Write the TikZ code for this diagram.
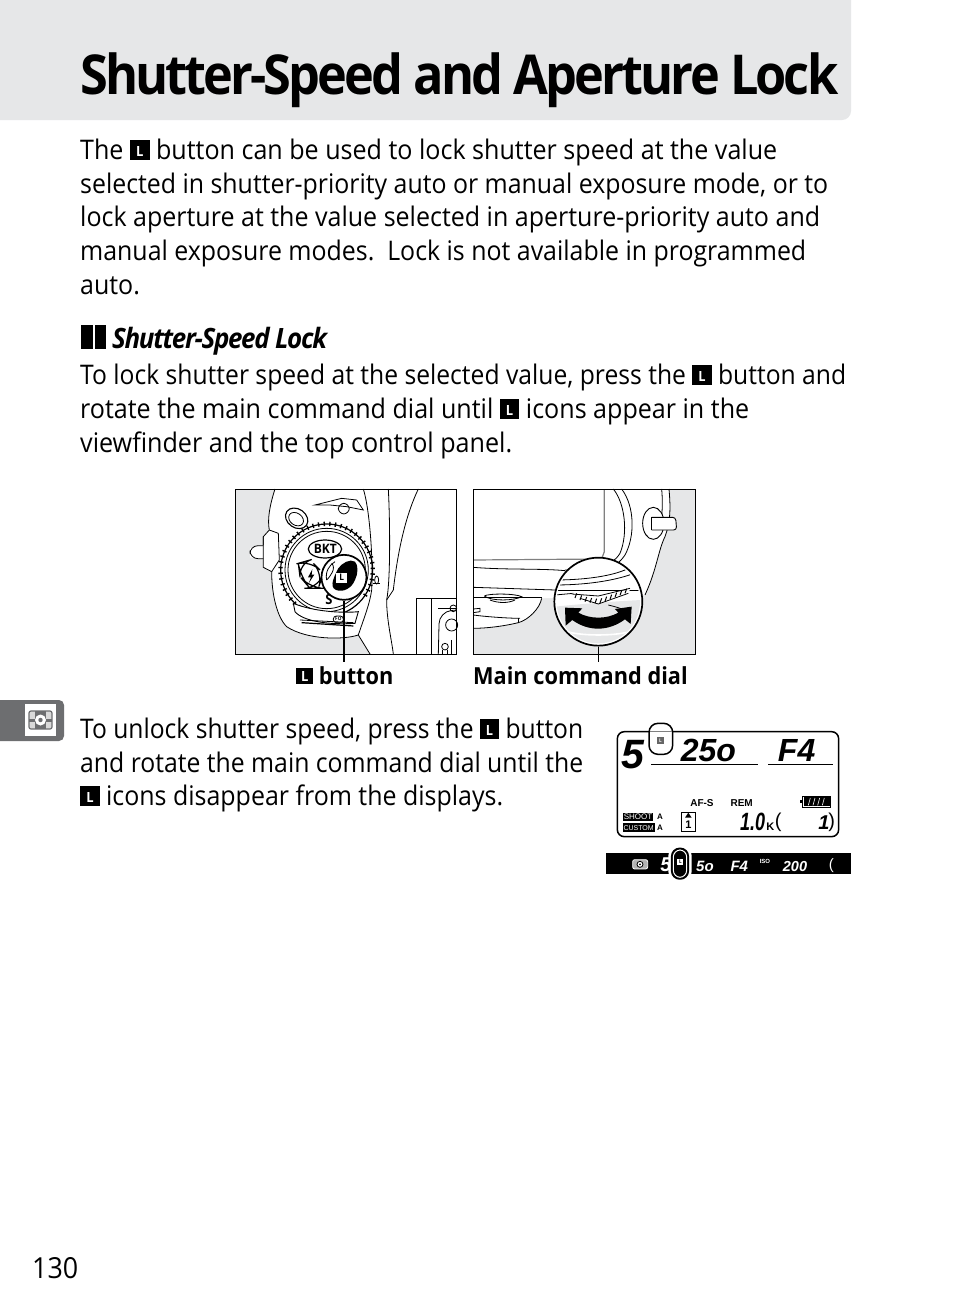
\documentclass[tikz,border=0pt]{standalone}
\usepackage{fontspec}
\setmainfont{Open Sans}[FakeStretch=0.925]
\newfontfamily\lcdfont{Liberation Sans}
\usetikzlibrary{positioning,calc}
\definecolor{barGray}{HTML}{E6E7E8}
\definecolor{tabGray}{HTML}{6D6E70}
\newcommand{\lbtn}{\mbox{\rule[-0.02em]{0.72em}{0.72em}\hspace{-0.72em}\makebox[0.72em]{\raisebox{2.6pt}{\color{white}\bfseries\fontsize{14}{14}\selectfont L}}}}
\newcommand{\fitw}[2]{\resizebox{#1pt}{\height}{#2}}

\begin{document}
\begin{tikzpicture}[x=1pt,y=-1pt]
    % Stili
    \tikzset{
        bodytext/.style={anchor=base west, inner sep=0pt, font=\fontsize{27}{33}\selectfont},
        labeltext/.style={anchor=base west, inner sep=0pt, font=\fontsize{23.5}{28}\selectfont\bfseries},
        photo/.style={draw=black, line width=0.9pt},
        lineart/.style={line width=0.8pt},
        lens/.style={circle, draw=black, fill=white, line width=1.7pt, inner sep=0pt},
        leader/.style={line width=1.3pt},
        lcdthin/.style={anchor=center, inner sep=0pt, font=\lcdfont\bfseries\fontsize{10}{10}\selectfont},
        lcdbig/.style={anchor=center, inner sep=0pt, font=\lcdfont\bfseries\itshape\fontsize{32}{32}\selectfont},
        lcdmid/.style={anchor=center, inner sep=0pt, font=\lcdfont\bfseries\itshape\fontsize{15}{15}\selectfont, white}
    }
    \useasboundingbox (0,0) rectangle (954,1314);
    \fill[white] (0,0) rectangle (954,1314);

    % Title band
    \fill[barGray, rounded corners=9pt] (-20,-20) rectangle (851,120);
    \node[anchor=base west, inner sep=0pt, font=\fontsize{55}{60}\selectfont\bfseries\addfontfeature{LetterSpace=-5.3}] (title) at (80,94) {\fitw{758}{Shutter-Speed and Aperture Lock}};

    % First paragraph
    \node[bodytext] (introA) at (80,159) {\fitw{697}{The \lbtn{} button can be used to lock shutter speed at the value}};
    \node[bodytext] (introB) at (80,193) {\fitw{748}{selected in shutter-priority auto or manual exposure mode, or to}};
    \node[bodytext] (introC) at (80,226) {\fitw{740}{lock aperture at the value selected in aperture-priority auto and}};
    \node[bodytext] (introD) at (80,260) {\fitw{726}{manual exposure modes.\ \ Lock is not available in programmed}};
    \node[bodytext] (introE) at (80,294) {auto.};

    % Heading
    \fill[black] (81,325) rectangle (93,349);
    \fill[black] (95,325) rectangle (106,349);
    \node[anchor=base west, inner sep=0pt, font=\fontsize{28}{33}\selectfont\bfseries\itshape\addfontfeature{LetterSpace=-4.7}] (heading) at (112,348) {Shutter-Speed Lock};

    % Second paragraph
    \node[bodytext] (lockA) at (80,384) {\fitw{766}{To lock shutter speed at the selected value, press the \lbtn{} button and}};
    \node[bodytext] (lockB) at (80,418) {\fitw{669}{rotate the main command dial until \lbtn{} icons appear in the}};
    \node[bodytext] (lockC) at (80,452) {\fitw{432}{viewfinder and the top control panel.}};

    % Left photo, coordinates of the 3x crop
    \begin{scope}[shift={(230,480)}, x=0.3333pt, y=-0.3333pt]
        \fill[barGray] (17,27) rectangle (680,522);
        \fill[white] (135,27) .. controls (118,80) and (112,120) .. (118,150)
            -- (100,170) -- (100,195) -- (60,205) -- (60,232) -- (100,238) -- (100,262) -- (125,275)
            .. controls (125,340) and (140,410) .. (170,440)
            .. controls (230,480) and (340,480) .. (385,465)
            -- (420,522) -- (680,522) -- (680,27) -- cycle;
        \begin{scope}[lineart]
            \draw (135,27) .. controls (118,80) and (112,120) .. (118,150) -- (100,170) -- (100,195);
            \draw[rounded corners=8pt] (100,197) -- (60,197) -- (60,236) -- (100,236);
            \draw (100,170) -- (100,262) -- (125,275) .. controls (125,340) and (140,410) .. (170,440)
                .. controls (230,480) and (340,480) .. (385,465) -- (420,522);
            \draw (118,150) -- (145,160) -- (148,240) -- (125,275);
            \draw (475,27) .. controls (480,120) and (482,300) .. (470,360) .. controls (470,420) and (485,480) .. (490,522);
            \draw (565,27) .. controls (530,100) and (505,200) .. (490,330) -- (470,360);
            \draw (400,27) .. controls (420,90) and (430,250) .. (425,330) .. controls (420,370) and (400,420) .. (385,465);
            \draw (255,75) -- (335,55) -- (380,60) -- (400,90) -- (350,80) -- (300,75) -- cycle;
            \draw[rounded corners=6pt] (325,70) rectangle (358,102);
            \draw[line width=1.1pt, rotate around={-35:(200,115)}] (200,115) ellipse (36 and 28);
            \draw[rotate around={-35:(200,115)}] (200,118) ellipse (24 and 18);
            % Main dial
            \draw (290,270) circle (125);
            \draw (290,270) circle (116);
            \draw[line width=1.2pt] (290,270) circle (138);
            \foreach \tooth in {120,127,...,395} {
                \draw[line width=1.4pt] ($(290,270)+(\tooth:132)$) -- ($(290,270)+(\tooth:145)$);
            }
            \draw[line width=1.2pt, fill=white] (285,207) ellipse (50 and 27);
            \draw[line width=1.2pt, rounded corners=14pt, fill=white] (205,250) -- (240,240) -- (280,280) -- (265,325) -- (240,325) -- (210,290) -- cycle;
            \fill[black] (247,268) -- (234,292) -- (243,292) -- (236,310) -- (253,284) -- (245,284) -- cycle;
            \draw[line width=0.9pt, fill=white] (190,370) .. controls (250,395) and (340,400) .. (385,395) -- (375,430) .. controls (300,435) and (220,425) .. (195,395) -- cycle;
            \draw (210,420) -- (370,428);
            \draw[line width=1.2pt] (215,428) -- (370,438);
            \draw[rounded corners=3pt] (310,408) rectangle (340,428);
            \draw (560,355) rectangle (680,522);
            \draw (605,355) -- (605,522);
            \draw (625,385) -- (680,385);
            \draw[rounded corners=12pt] (680,390) -- (628,395) -- (625,522);
            \draw (670,385) circle (10);
            \draw (665,435) circle (18);
            \draw (645,500) circle (10);
            \draw (636,510) -- (636,522) (652,510) -- (652,522) (664,480) -- (664,522);
            \draw (440,300) ellipse (6 and 12);
            \draw (430,310) -- (450,310);
        \end{scope}
        \node[inner sep=0pt, font=\bfseries\fontsize{13}{13}\selectfont] (bktText) at (286,207) {BKT};
        \node[inner sep=1pt, fill=white, font=\bfseries\fontsize{14}{14}\selectfont] (dialS) at (297,360) {S};
        \node[inner sep=0pt, font=\bfseries\fontsize{5}{5}\selectfont] (dialMode) at (325,415) {FO};
        % Loupe on the button
        \node[lens, minimum size=45pt] (lensL) at (342,292) {};
        \fill[black] (375,245) .. controls (385,255) and (385,280) .. (375,300)
            .. controls (365,325) and (340,338) .. (318,330)
            .. controls (295,320) and (315,285) .. (325,265)
            .. controls (335,250) and (360,235) .. (375,245) -- cycle;
        \draw[lineart] (290,300) .. controls (285,275) and (298,255) .. (315,245);
        \draw[lineart] (305,250) .. controls (320,265) and (300,290) .. (290,300);
        \fill[white] (318,278) rectangle (352,308);
        \node[inner sep=0pt, font=\bfseries\fontsize{9}{9}\selectfont] (lensLetter) at (335,293) {L};
        \draw[photo] (17,27) rectangle (680,522);
        \coordinate (lensLend) at (342,545);
    \end{scope}
    \node[labeltext] (btnLabel) at (296,684) {\lbtn{} button};
    \draw[leader] (lensL.south) -- (lensLend);

    % Right photo, coordinates of the 3x crop
    \begin{scope}[shift={(465,480)}, x=0.3333pt, y=-0.3333pt]
        \fill[barGray] (25,27) rectangle (690,522);
        \fill[white] (25,27) -- (612,27) .. controls (618,90) and (615,130) .. (600,170)
            .. controls (580,210) and (575,270) .. (540,345)
            -- (230,355) .. controls (225,385) and (190,420) .. (160,428)
            .. controls (110,440) and (60,445) .. (25,445) -- cycle;
        \begin{scope}[lineart]
            \draw[gray, line width=1.2pt] (418,27) -- (418,215) -- (410,237) -- (25,240);
            \draw (612,27) .. controls (618,90) and (615,130) .. (600,170)
                .. controls (580,210) and (575,270) .. (540,345);
            \draw (590,27) .. controls (595,80) and (590,130) .. (580,160);
            \draw (445,27) .. controls (480,70) and (490,160) .. (465,220) .. controls (440,260) and (400,268) .. (300,270);
            \draw (470,27) .. controls (510,80) and (510,170) .. (480,225) .. controls (450,270) and (400,285) .. (300,285);
            \draw (25,262) .. controls (120,270) and (230,265) .. (300,272);
            \draw (25,322) -- (270,330);
            \draw (25,352) -- (230,352);
            \draw (230,355) .. controls (225,385) and (190,420) .. (160,428) .. controls (110,440) and (60,445) .. (25,445);
            \draw (25,405) .. controls (60,410) and (130,415) .. (165,415);
            \draw (160,415) -- (160,430);
            \draw (58,348) .. controls (70,340) and (150,340) .. (170,350) .. controls (150,362) and (80,365) .. (58,348);
            \draw (75,360) .. controls (100,370) and (130,370) .. (150,360);
            \draw (25,387) -- (45,385) -- (45,395) -- (25,398);
            % Eyelet
            \draw[fill=white, line width=0.9pt] (565,130) ellipse (32 and 48);
            \draw[fill=white, line width=0.9pt, rounded corners=3pt] (560,112) -- (632,112) -- (635,150) -- (560,150);
            \draw (560,112) -- (560,150);
        \end{scope}
        \node[lens, minimum size=88pt] (lensR) at (400,365) {};
        \begin{scope}
            \clip (400,365) circle (125);
            \fill[barGray] (270,380) .. controls (350,372) and (430,365) .. (530,360) -- (530,500) -- (270,500) -- cycle;
            \draw[lineart] (270,332) -- (530,332);
            \draw[lineart] (270,300) .. controls (350,300) and (450,290) .. (500,260);
            \draw[lineart] (270,315) .. controls (350,315) and (450,305) .. (520,275);
            \draw[lineart] (270,345) -- (325,340);
            \draw[lineart] (430,375) .. controls (450,380) and (470,385) .. (490,395);
            \draw[white, line width=1.6pt] (290,450) .. controls (340,470) and (460,470) .. (510,450);
            \draw[white, line width=1.6pt] (335,405) .. controls (370,420) and (430,420) .. (465,405);
        \end{scope}
        % Dial teeth
        \fill[white] (320,340) -- (400,345) -- (495,328) -- (490,340) -- (400,372) -- (345,355) -- cycle;
        \foreach \dx/\dy in {335/347, 350/353, 365/358, 380/361, 395/363, 410/362, 425/357, 440/351, 455/345, 470/339, 485/333} {
            \draw[line width=1pt] (\dx,\dy-7) -- (\dx-5,\dy+7);
        }
        \draw[line width=0.8pt] (320,342) -- (400,348) -- (495,325);
        \draw[line width=0.8pt] (345,355) -- (400,372) -- (490,340);
        % Double arrow
        \fill[black] (300,383) -- (352,385) -- (340,398)
            .. controls (375,418) and (425,418) .. (460,398)
            -- (450,387) -- (500,380) -- (497,432) -- (480,418)
            .. controls (430,455) and (370,455) .. (322,420)
            -- (302,437) -- cycle;
        \draw[photo] (25,27) rectangle (690,522);
        \coordinate (lensRend) at (400,545);
    \end{scope}
    \node[labeltext] (dialLabel) at (473,684) {Main command dial};
    \draw[leader] (lensR.south) -- (lensRend);

    % Tab
    \fill[tabGray, rounded corners=5pt] (-20,700) rectangle (64,741);
    \fill[white] (25,704) rectangle (56,736);
    \draw[tabGray, line width=1.2pt, fill=gray!30, rounded corners=2pt] (29,711) rectangle (52,729);
    \fill[tabGray] (35,711) rectangle (46,729);
    \fill[tabGray] (29,718.5) rectangle (52,721.5);
    \fill[white] (40.5,720) circle (5.5);
    \fill[tabGray] (40.5,720) circle (2.2);

    % Third paragraph
    \node[bodytext] (unlockA) at (80,738) {\fitw{503}{To unlock shutter speed, press the \lbtn{} button}};
    \node[bodytext] (unlockB) at (80,772) {\fitw{503}{and rotate the main command dial until the}};
    \node[bodytext] (unlockC) at (80,805) {\fitw{423}{\lbtn{} icons disappear from the displays.}};

    % Top control panel
    \begin{scope}[shift={(600,715)}, x=0.3333pt, y=-0.3333pt]
        \draw[line width=1.5pt, rounded corners=7pt] (52,50) rectangle (716,365);
        \draw[line width=0.9pt] (153,149) -- (473,149);
        \draw[line width=0.9pt] (505,149) -- (698,149);
        \node[lcdbig, font=\lcdfont\bfseries\itshape\fontsize{41}{41}\selectfont] (panelS) at (100,118) {5};
        \node[lcdbig] (panelSpeed) at (325,106) {25o};
        \node[lcdbig] (panelF) at (590,106) {F4};
        \node[lcdthin] (panelAF) at (306,264) {AF-S};
        \node[lcdthin] (panelRem) at (425,264) {REM};
        \fill[black] (68,293) rectangle (160,318);
        \fill[black] (68,325) rectangle (165,351);
        \node[lcdthin, font=\lcdfont\fontsize{8}{8}\selectfont, white] (panelShoot) at (114,306) {SHOOT};
        \node[lcdthin, font=\lcdfont\fontsize{7}{7}\selectfont, white] (panelCustom) at (116,338) {CUSTOM};
        \node[lcdthin, font=\lcdfont\bfseries\fontsize{8}{8}\selectfont] (panelAa) at (180,306) {A};
        \node[lcdthin, font=\lcdfont\bfseries\fontsize{8}{8}\selectfont] (panelAb) at (180,339) {A};
        \draw[line width=0.9pt] (244,293) rectangle (285,350);
        \fill[black] (265,293) -- (255,308) -- (275,308) -- cycle;
        \node[lcdthin, font=\lcdfont\bfseries\fontsize{11}{11}\selectfont] (panelOne) at (265,328) {1};
        \node[lcdbig, font=\lcdfont\bfseries\itshape\fontsize{25}{25}\selectfont] (panelEv) at (458,322) {\scalebox{0.72}[1]{1.0}};
        \node[lcdthin, font=\lcdfont\bfseries\fontsize{11}{11}\selectfont] (panelK) at (511,336) {K};
        \node[lcdthin, font=\lcdfont\fontsize{20}{20}\selectfont] (panelBra) at (535,323) {(};
        \node[lcdthin, font=\lcdfont\bfseries\itshape\fontsize{20}{20}\selectfont] (panelOneB) at (672,322) {1};
        \node[lcdthin, font=\lcdfont\fontsize{20}{20}\selectfont] (panelKet) at (695,323) {)};
        % Battery
        \draw[line width=1pt, fill=white] (608,243) rectangle (693,277);
        \fill[black] (600,255) rectangle (608,265);
        \fill[black] (612,247) rectangle (689,273);
        \foreach \stripe in {628,642,656,670} {
            \draw[white, line width=0.6pt] (\stripe-3,271) -- (\stripe+3,249);
        }
        % Viewfinder bar
        \fill[black] (18,415) rectangle (753,478);
        \draw[white, line width=0.8pt, rounded corners=2pt, fill=gray!60] (98,434) rectangle (143,462);
        \draw[black, line width=0.8pt, fill=white] (120,448) circle (9);
        \fill[black] (120,448) circle (3);
        \node[lcdmid, font=\lcdfont\bfseries\itshape\fontsize{20}{20}\selectfont] (vfS) at (198,448) {5};
        \node[lcdmid] (vfSpeed) at (315,453) {5o};
        \node[lcdmid] (vfF) at (418,453) {F4};
        \node[lcdthin, font=\lcdfont\bfseries\fontsize{6}{6}\selectfont, white] (vfIso) at (495,440) {ISO};
        \node[lcdmid, font=\lcdfont\bfseries\itshape\fontsize{14.5}{14.5}\selectfont] (vfValue) at (585,454) {200};
        \node[lcdmid, font=\lcdfont\fontsize{15}{15}\selectfont] (vfBra) at (694,451) {(};
        % Call-out rings
        \draw[line width=1.5pt, rounded corners=9pt, fill=white] (147,25) rectangle (218,118);
        \draw[line width=0.8pt, gray] (150,48) -- (215,48);
        \fill[gray!80!black] (170,65) rectangle (192,87);
        \node[inner sep=0pt, font=\bfseries\fontsize{5}{5}\selectfont, white] (ringLetter) at (181,76) {L};
        \draw[white, line width=4pt, rounded corners=9pt] (211,396) rectangle (269,496);
        \draw[line width=1.5pt, rounded corners=8pt, fill=black] (215,400) rectangle (265,492);
        \draw[white, line width=1pt, rounded corners=7pt] (220,405) rectangle (260,487);
        \fill[white] (232,432) rectangle (250,450);
        \node[inner sep=0pt, font=\bfseries\fontsize{5}{5}\selectfont] (ringLetterB) at (241,441) {L};
    \end{scope}

    % Page number
    \node[anchor=base west, inner sep=0pt, font=\fontsize{29}{30}\selectfont] (pageNum) at (32,1278) {130};
\end{tikzpicture}
\end{document}
